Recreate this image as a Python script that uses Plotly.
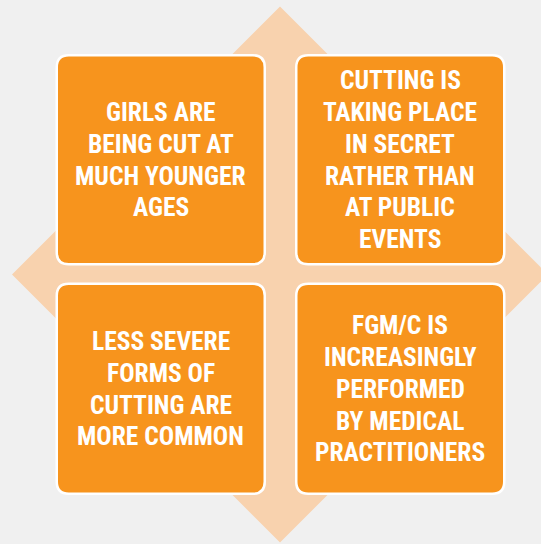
import plotly.graph_objects as go

# Content
box_texts = [
    ["GIRLS ARE", "BEING CUT AT", "MUCH YOUNGER", "AGES"],
    ["CUTTING IS", "TAKING PLACE", "IN SECRET", "RATHER THAN", "AT PUBLIC", "EVENTS"],
    ["LESS SEVERE", "FORMS OF", "CUTTING ARE", "MORE COMMON"],
    ["FGM/C IS", "INCREASINGLY", "PERFORMED", "BY MEDICAL", "PRACTITIONERS"],
]

W, H = 541, 544
BG = "#f0f0f0"
DIAMOND = "#f8d2ae"
ORANGE = "#f7941d"
FONT = "Liberation Sans Narrow, Roboto Condensed, DejaVu Sans Condensed, sans-serif"
FONT_SIZE = 25.5
LINE_GAP = 31.8

# layout geometry (pixels)
cx, cy, half = 280, 274.5, 268
cols = [(55.5, 266.0), (295.0, 505.5)]
rows = [(54.0, 265.5), (282.5, 495.0)]
radius = 12
bw = 2.5


def rounded_rect(x0, y0, x1, y1, r):
    return (f"M{x0+r},{y0} L{x1-r},{y0} Q{x1},{y0} {x1},{y0+r} "
            f"L{x1},{y1-r} Q{x1},{y1} {x1-r},{y1} L{x0+r},{y1} "
            f"Q{x0},{y1} {x0},{y1-r} L{x0},{y0+r} Q{x0},{y0} {x0+r},{y0} Z")


shapes = [dict(type="path",
               path=f"M{cx},{cy-half} L{cx+half},{cy} L{cx},{cy+half} L{cx-half},{cy} Z",
               fillcolor=DIAMOND, line=dict(width=0), layer="below")]
annotations = []
for i, lines in enumerate(box_texts):
    (x0, x1) = cols[i % 2]
    (y0, y1) = rows[i // 2]
    inset = bw / 2
    shapes.append(dict(type="path",
                       path=rounded_rect(x0 + inset, y0 + inset, x1 - inset, y1 - inset, radius),
                       fillcolor=ORANGE, line=dict(color="white", width=bw)))
    mid = (y0 + y1) / 2
    n = len(lines)
    for k, line in enumerate(lines):
        annotations.append(dict(x=(x0 + x1) / 2, y=mid + (k - (n - 1) / 2) * LINE_GAP,
                                xref="x", yref="y", text=f"<b>{line}</b>",
                                showarrow=False, xanchor="center", yanchor="middle",
                                font=dict(family=FONT, size=FONT_SIZE, color="white")))

fig = go.Figure()
fig.update_layout(width=W, height=H, margin=dict(l=0, r=0, t=0, b=0),
                  paper_bgcolor=BG, plot_bgcolor=BG,
                  xaxis=dict(range=[0, W], visible=False, fixedrange=True),
                  yaxis=dict(range=[H, 0], visible=False, fixedrange=True),
                  shapes=shapes, annotations=annotations, showlegend=False)
fig.write_html("out.html", config={"displayModeBar": False},
               post_script="document.body.style.margin='0';document.body.style.overflow='hidden';document.body.style.background='#f0f0f0';")
